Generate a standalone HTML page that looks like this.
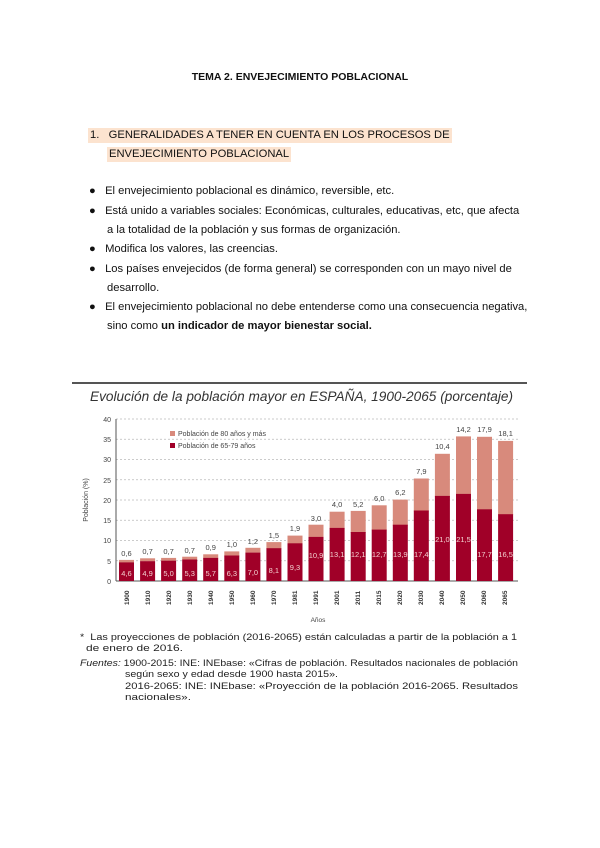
<!DOCTYPE html>
<html><head><meta charset="utf-8"><style>
body{margin:0;background:#fff;}
.p{position:relative;width:600px;height:848px;overflow:hidden;font-family:"Liberation Sans",sans-serif;color:#111;font-size:11.2px;}
.t{position:absolute;white-space:nowrap;}
.hl{background:#fce3cf;}
</style></head><body><div class="p">
<div class="t" style="left:0;width:600px;text-align:center;top:71px;font-weight:bold;font-size:10.5px">TEMA 2. ENVEJECIMIENTO POBLACIONAL</div>
<div class="t hl" style="left:88px;top:128px;font-size:11.2px;padding:1px 2px 2px 2px">1.&nbsp;&nbsp;&nbsp;GENERALIDADES A TENER EN CUENTA EN LOS PROCESOS DE</div>
<div class="t hl" style="left:107px;top:147px;font-size:11.2px;padding:1px 2px 2px 2px">ENVEJECIMIENTO POBLACIONAL</div>
<div class="t" style="left:89px;top:185px">●&nbsp;&nbsp;&nbsp;El envejecimiento poblacional es dinámico, reversible, etc.</div>
<div class="t" style="left:89px;top:205px">●&nbsp;&nbsp;&nbsp;Está unido a variables sociales: Económicas, culturales, educativas, etc, que afecta</div>
<div class="t" style="left:107px;top:224px">a la totalidad de la población y sus formas de organización.</div>
<div class="t" style="left:89px;top:243px">●&nbsp;&nbsp;&nbsp;Modifica los valores, las creencias.</div>
<div class="t" style="left:89px;top:263px">●&nbsp;&nbsp;&nbsp;Los países envejecidos (de forma general) se corresponden con un mayo nivel de</div>
<div class="t" style="left:107px;top:282px">desarrollo.</div>
<div class="t" style="left:89px;top:301px">●&nbsp;&nbsp;&nbsp;El envejecimiento poblacional no debe entenderse como una consecuencia negativa,</div>
<div class="t" style="left:107px;top:320px">sino como <b>un indicador de mayor bienestar social.</b></div>

<svg style="position:absolute;left:0;top:0" width="600" height="848" font-family="Liberation Sans, sans-serif">
<line x1="72" y1="383" x2="527" y2="383" stroke="#555" stroke-width="2"/>
<text x="90" y="401" font-size="13.5" font-style="italic" fill="#333" textLength="423" lengthAdjust="spacingAndGlyphs">Evolución de la población mayor en ESPAÑA, 1900-2065 (porcentaje)</text>
<g stroke="#bbb" stroke-dasharray="2,2" stroke-width="0.8">
<line x1="116" x2="518" y1="560.75" y2="560.75"/><line x1="116" x2="518" y1="540.5" y2="540.5"/><line x1="116" x2="518" y1="520.25" y2="520.25"/><line x1="116" x2="518" y1="500" y2="500"/><line x1="116" x2="518" y1="479.75" y2="479.75"/><line x1="116" x2="518" y1="459.5" y2="459.5"/><line x1="116" x2="518" y1="439.25" y2="439.25"/><line x1="116" x2="518" y1="419" y2="419"/>
</g>
<line x1="116" y1="419" x2="116" y2="581" stroke="#555"/>
<line x1="116" y1="581" x2="518" y2="581" stroke="#555"/>
<g font-size="7" fill="#444" text-anchor="end">
<text x="111" y="584">0</text><text x="111" y="564">5</text><text x="111" y="543">10</text><text x="111" y="523">15</text><text x="111" y="503">20</text><text x="111" y="483">25</text><text x="111" y="462">30</text><text x="111" y="442">35</text><text x="111" y="422">40</text>
</g>
<text transform="translate(88,500) rotate(-90)" font-size="7" fill="#444" text-anchor="middle">Población (%)</text>
<rect x="170" y="431" width="5" height="5" fill="#d88a7c"/><text x="178" y="436" font-size="7" fill="#444">Población de 80 años y más</text>
<rect x="170" y="443" width="5" height="5" fill="#a00028"/><text x="178" y="448" font-size="7" fill="#444">Población de 65-79 años</text>
<g fill="#d88a7c">
<rect x="119" y="559.9" width="15" height="3"/><rect x="140.1" y="558.3" width="15" height="3"/><rect x="161.1" y="557.9" width="15" height="3"/><rect x="182.2" y="556.7" width="15" height="3"/><rect x="203.2" y="554.3" width="15" height="4"/><rect x="224.3" y="551.4" width="15" height="5"/><rect x="245.4" y="547.8" width="15" height="5"/><rect x="266.4" y="542.1" width="15" height="7"/><rect x="287.5" y="535.6" width="15" height="8"/><rect x="308.5" y="524.7" width="15" height="13"/><rect x="329.6" y="511.7" width="15" height="17"/><rect x="350.7" y="510.9" width="15" height="22"/><rect x="371.7" y="505.3" width="15" height="25"/><rect x="392.8" y="499.6" width="15" height="26"/><rect x="413.8" y="478.5" width="15" height="33"/><rect x="434.9" y="453.8" width="15" height="43"/><rect x="456" y="436.4" width="15" height="58"/><rect x="477" y="436.8" width="15" height="73"/><rect x="498.1" y="440.9" width="15" height="74"/>
</g>
<g fill="#a00028">
<rect x="119" y="562.4" width="15" height="18.6"/><rect x="140.1" y="561.2" width="15" height="19.8"/><rect x="161.1" y="560.7" width="15" height="20.3"/><rect x="182.2" y="559.5" width="15" height="21.5"/><rect x="203.2" y="557.9" width="15" height="23.1"/><rect x="224.3" y="555.5" width="15" height="25.5"/><rect x="245.4" y="552.6" width="15" height="28.4"/><rect x="266.4" y="548.2" width="15" height="32.8"/><rect x="287.5" y="543.3" width="15" height="37.7"/><rect x="308.5" y="536.9" width="15" height="44.1"/><rect x="329.6" y="527.9" width="15" height="53.1"/><rect x="350.7" y="532" width="15" height="49"/><rect x="371.7" y="529.6" width="15" height="51.4"/><rect x="392.8" y="524.7" width="15" height="56.3"/><rect x="413.8" y="510.5" width="15" height="70.5"/><rect x="434.9" y="495.9" width="15" height="85.1"/><rect x="456" y="493.9" width="15" height="87.1"/><rect x="477" y="509.3" width="15" height="71.7"/><rect x="498.1" y="514.2" width="15" height="66.8"/>
</g>
<g font-size="7.5" fill="#444" text-anchor="middle">
<text x="126.5" y="556">0,6</text><text x="147.6" y="554">0,7</text><text x="168.6" y="554">0,7</text><text x="189.7" y="553">0,7</text><text x="210.7" y="550">0,9</text><text x="231.8" y="547">1,0</text><text x="252.9" y="544">1,2</text><text x="273.9" y="538">1,5</text><text x="295" y="531">1,9</text><text x="316" y="521">3,0</text><text x="337.1" y="507">4,0</text><text x="358.2" y="507">5,2</text><text x="379.2" y="501">6,0</text><text x="400.3" y="495">6,2</text><text x="421.3" y="474">7,9</text><text x="442.4" y="449">10,4</text><text x="463.5" y="432">14,2</text><text x="484.5" y="432">17,9</text><text x="505.6" y="436">18,1</text>
</g>
<g font-size="7.5" fill="#f3d0d0" text-anchor="middle">
<text x="126.5" y="576">4,6</text><text x="147.6" y="576">4,9</text><text x="168.6" y="576">5,0</text><text x="189.7" y="576">5,3</text><text x="210.7" y="576">5,7</text><text x="231.8" y="576">6,3</text><text x="252.9" y="575">7,0</text><text x="273.9" y="573">8,1</text><text x="295" y="570">9,3</text><text x="316" y="558">10,9</text><text x="337.1" y="557">13,1</text><text x="358.2" y="557">12,1</text><text x="379.2" y="557">12,7</text><text x="400.3" y="557">13,9</text><text x="421.3" y="557">17,4</text><text x="442.4" y="542">21,0</text><text x="463.5" y="542">21,5</text><text x="484.5" y="557">17,7</text><text x="505.6" y="557">16,5</text>
</g>
<g font-size="6.5" fill="#333" font-weight="bold">
<text transform="translate(129,605) rotate(-90)">1900</text><text transform="translate(150,605) rotate(-90)">1910</text><text transform="translate(171,605) rotate(-90)">1920</text><text transform="translate(192,605) rotate(-90)">1930</text><text transform="translate(213,605) rotate(-90)">1940</text><text transform="translate(234,605) rotate(-90)">1950</text><text transform="translate(255,605) rotate(-90)">1960</text><text transform="translate(276,605) rotate(-90)">1970</text><text transform="translate(297,605) rotate(-90)">1981</text><text transform="translate(318,605) rotate(-90)">1991</text><text transform="translate(339,605) rotate(-90)">2001</text><text transform="translate(360,605) rotate(-90)">2011</text><text transform="translate(381,605) rotate(-90)">2015</text><text transform="translate(402,605) rotate(-90)">2020</text><text transform="translate(423,605) rotate(-90)">2030</text><text transform="translate(444,605) rotate(-90)">2040</text><text transform="translate(465,605) rotate(-90)">2050</text><text transform="translate(486,605) rotate(-90)">2060</text><text transform="translate(507,605) rotate(-90)">2065</text>
</g>
<text x="318" y="622" font-size="6.5" fill="#444" text-anchor="middle">Años</text>
<g font-size="9.5" fill="#222">
<text x="80" y="640" textLength="437" lengthAdjust="spacingAndGlyphs">*&nbsp; Las proyecciones de población (2016-2065) están calculadas a partir de la población a 1</text>
<text x="86" y="651" textLength="97" lengthAdjust="spacingAndGlyphs">de enero de 2016.</text>
<text x="80" y="666" textLength="438" lengthAdjust="spacingAndGlyphs"><tspan font-style="italic">Fuentes:</tspan> 1900-2015: INE: INEbase: «Cifras de población. Resultados nacionales de población</text>
<text x="125" y="677" textLength="213" lengthAdjust="spacingAndGlyphs">según sexo y edad desde 1900 hasta 2015».</text>
<text x="125" y="689" textLength="393" lengthAdjust="spacingAndGlyphs">2016-2065: INE: INEbase: «Proyección de la población 2016-2065. Resultados</text>
<text x="125" y="700" textLength="66" lengthAdjust="spacingAndGlyphs">nacionales».</text>
</g>
</svg>
</div></body></html>
